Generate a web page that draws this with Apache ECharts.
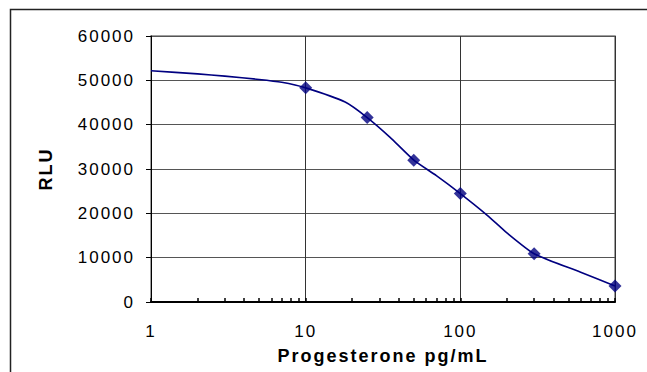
<!DOCTYPE html>
<html>
<head>
<meta charset="utf-8">
<script src="https://cdn.jsdelivr.net/npm/echarts@6/dist/echarts.min.js"></script>
<style>
  html, body { margin: 0; padding: 0; background: #fff; }
  #chart { width: 647px; height: 372px; }
  #chart svg text { letter-spacing: 2px; }
  #chart svg text.title { letter-spacing: 3.5px; }
</style>
</head>
<body>
<div id="chart"></div>
<script>
// measured standards
const doseValues = [10, 25, 50, 100, 300, 1000];
const rluValues = [48300, 41600, 32000, 24450, 10900, 3600];

// fitted curve
const curveX = [1, 2, 3, 5, 7, 10, 18, 25, 35, 50, 70, 100, 150, 200, 300, 600, 1000];
const curveY = [52150, 51450, 50950, 50200, 49550, 48300, 45100, 41600, 37200, 32000, 28500, 24450, 19500, 15600, 10900, 6700, 3600];

const xTicks = [1, 2, 3, 4, 5, 6, 7, 8, 9, 10, 20, 30, 40, 50, 60, 70, 80, 90, 100,
  200, 300, 400, 500, 600, 700, 800, 900, 1000];
const xLabels = [1, 10, 100, 1000];

const chart = echarts.init(document.getElementById('chart'), null, { renderer: 'svg' });

const option = {
  animation: false,
  textStyle: { fontFamily: 'Liberation Sans, Arial, sans-serif' },
  graphic: [{
    type: 'rect',
    shape: { x: 10.5, y: 9.5, width: 700, height: 400 },
    style: { fill: 'none', stroke: '#222', lineWidth: 1.5 },
    silent: true
  }],
  grid: {
    left: 151, right: 32, top: 36, bottom: 70,
    show: true, borderColor: '#808080', borderWidth: 1.5, backgroundColor: 'transparent'
  },
  xAxis: [{
    type: 'log',
    logBase: 10,
    min: 1,
    max: 1000,
    name: 'Progesterone pg/mL',
    nameLocation: 'middle',
    nameGap: 45,
    nameTextStyle: { fontSize: 18, fontWeight: 'bold', color: '#000', className: 'title' },
    axisLine: { show: true, lineStyle: { color: '#000', width: 2 } },
    axisTick: { show: true, inside: true, length: 4, customValues: xTicks, lineStyle: { color: '#000', width: 1.5 } },
    axisLabel: { customValues: xLabels, fontSize: 17, color: '#000', margin: 21, formatter: v => String(v) },
    splitLine: { show: false },
    z: 3
  }, {
    // carries only the decade grid lines
    type: 'log',
    logBase: 10,
    min: 1,
    max: 1000,
    position: 'bottom',
    axisLine: { show: false },
    axisTick: { show: false },
    axisLabel: { show: false },
    splitLine: { show: true, lineStyle: { color: '#333', width: 1 } }
  }],
  yAxis: {
    type: 'value',
    min: 0,
    max: 60000,
    interval: 10000,
    name: 'RLU',
    nameLocation: 'middle',
    nameGap: 96,
    nameRotate: 90,
    nameTextStyle: { fontSize: 18, fontWeight: 'bold', color: '#000', className: 'title' },
    axisLine: { show: true, lineStyle: { color: '#000', width: 1 } },
    axisTick: { show: true, inside: false, length: 5, lineStyle: { color: '#000' } },
    axisLabel: { fontSize: 17, color: '#000', margin: 16, formatter: v => String(v) },
    splitLine: { show: true, lineStyle: { color: '#555', width: 1 } }
  },
  series: [
    {
      type: 'line',
      data: curveX.map((x, i) => [x, curveY[i]]),
      smooth: 0.2,
      showSymbol: false,
      lineStyle: { color: '#000080', width: 1.6 },
      z: 2
    },
    {
      type: 'scatter',
      data: doseValues.map((x, i) => [x, rluValues[i]]),
      symbol: 'diamond',
      symbolSize: 13,
      itemStyle: { color: '#000080' },
      z: 3
    }
  ]
};
chart.setOption(option);
</script>
</body>
</html>
